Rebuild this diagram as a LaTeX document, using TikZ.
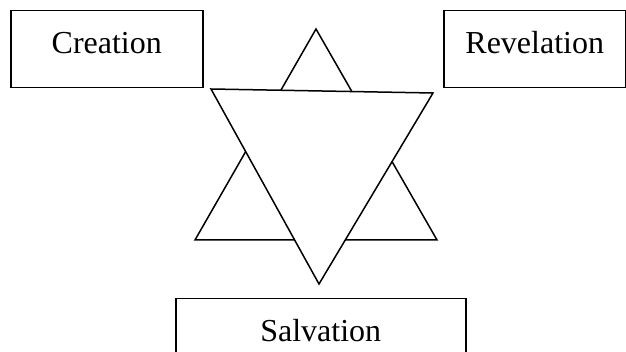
\documentclass[tikz,border=0pt]{standalone}
\usepackage{fontspec}
\setmainfont{Liberation Serif}
\usepackage{tikz}
\usetikzlibrary{positioning}

\begin{document}
\begin{tikzpicture}[
    x=1pt, y=-1pt,
    label1/.style={rectangle, draw=black, line width=1.5pt, inner xsep=0pt, inner ysep=0pt, anchor=north west, font=\fontsize{32}{38}\selectfont, text height=43pt},
    tri/.style={draw=black, line width=1.5pt, line join=miter}
]
    \useasboundingbox (0,0) rectangle (626,352);

    % star of two triangles
    \draw [tri] (316,29) -- (195,240) -- (437,240) -- cycle;
    \draw [tri, fill=white] (211,89) -- (433,93) -- (319,284) -- cycle;

    \node [label1, minimum width=192pt, text depth=34pt] (creation) at (10,10) {Creation};
    \node [label1, minimum width=182pt, text depth=34pt] (revelation) at (443,10) {Revelation};
    \node [label1, minimum width=290pt, text depth=30pt] (salvation) at (175,298) {Salvation\hspace{12pt}};
\end{tikzpicture}
\end{document}
